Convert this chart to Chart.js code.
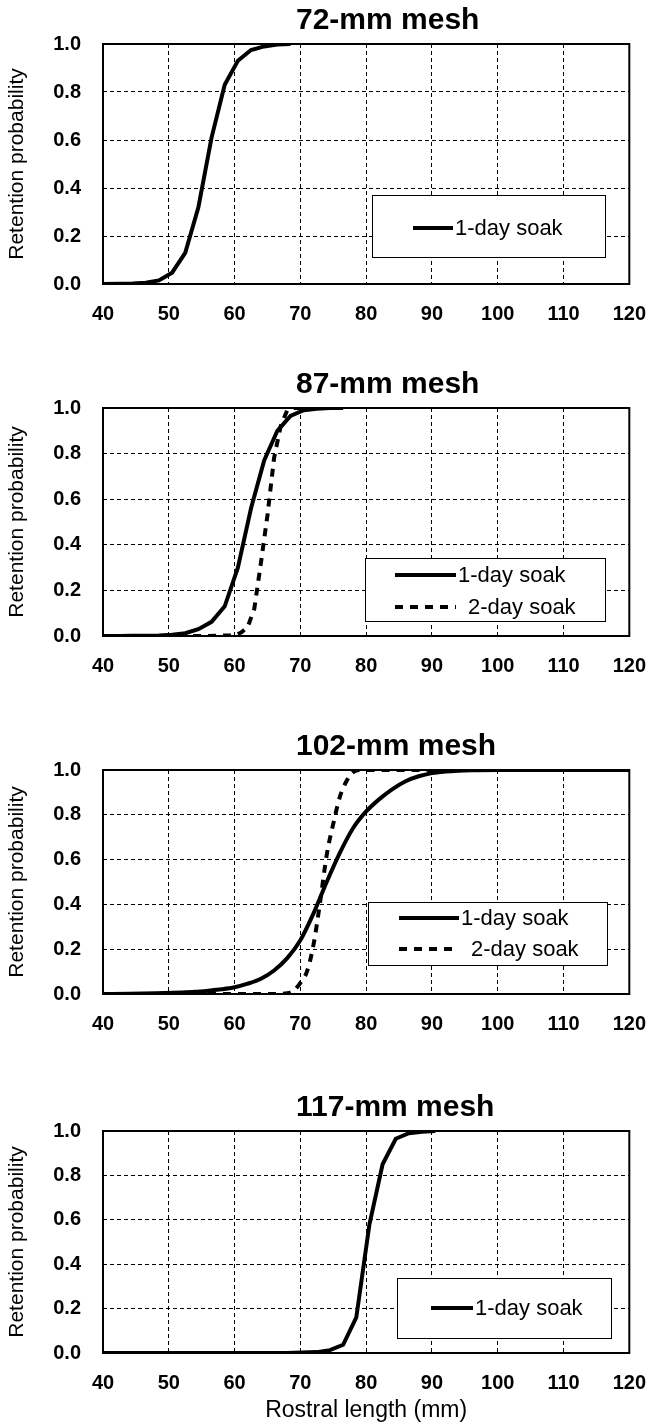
<!DOCTYPE html>
<html lang="en">
<head>
<meta charset="UTF-8">
<title>Retention probability by mesh size</title>
<script src="https://cdn.jsdelivr.net/npm/chart.js"></script>
<style>
  body { margin: 0; background: #fff; width: 664px; height: 1424px; position: relative; overflow: hidden; }
  canvas { position: absolute; left: 0; }
</style>
</head>
<body>
<canvas id="c72" width="664" height="330" style="top:0px"></canvas>
<canvas id="c87" width="664" height="318" style="top:364px"></canvas>
<canvas id="c102" width="664" height="314" style="top:726px"></canvas>
<canvas id="c117" width="664" height="337" style="top:1087px"></canvas>
<script>
// rostral length (mm) and retention probability
const len72 = [40, 42.5, 44.5, 46.5, 48.5, 50.5, 52.5, 54.5, 56.5, 58.5, 60.5, 62.5, 64.5, 66.5, 68.5];
const p72day1 = [0, 0.001, 0.002, 0.005, 0.015, 0.047, 0.13, 0.32, 0.61, 0.83, 0.93, 0.975, 0.99, 0.998, 1];

const len87day1 = [40, 42.5, 44.5, 46.5, 48.5, 50.5, 52.5, 54.5, 56.5, 58.5, 60.5, 62.5, 64.5, 66.5, 68.5, 70.5, 72.5, 74.5, 76.5];
const p87day1 = [0, 0, 0.001, 0.001, 0.002, 0.005, 0.012, 0.03, 0.062, 0.13, 0.3, 0.56, 0.77, 0.9, 0.965, 0.99, 0.997, 1, 1];
const len87day2 = [40, 44, 48, 52, 56, 60, 61, 62, 63, 64, 65, 66, 67, 68, 69, 70];
const p87day2 = [0, 0, 0, 0, 0, 0.003, 0.015, 0.04, 0.12, 0.32, 0.53, 0.78, 0.92, 0.99, 1, 1];

const len102day1 = [40, 44, 48, 52, 54, 56, 58, 60, 62, 64, 66, 68, 70, 72, 74, 76, 78, 80,
                    82, 84, 86, 88, 90, 92, 94, 96, 100, 110, 120];
const p102day1 = [0, 0.001, 0.003, 0.007, 0.01, 0.015, 0.021, 0.03, 0.046, 0.068, 0.105, 0.16, 0.24, 0.36, 0.5, 0.63, 0.74, 0.815,
                  0.87, 0.915, 0.95, 0.972, 0.986, 0.993, 0.997, 0.999, 1, 1, 1];
const len102day2 = [40, 50, 60, 66, 68, 69, 70, 71, 72, 73, 74, 75, 76, 77, 78, 79, 80, 90, 100, 110, 120];
const p102day2 = [0, 0, 0, 0, 0.003, 0.015, 0.05, 0.1, 0.22, 0.41, 0.62, 0.76, 0.88, 0.95, 0.99, 1, 1, 1, 1, 1, 1];

const len117 = [40, 44, 48, 52, 56, 60, 64, 68, 72.5, 74.5, 76.5, 78.5, 80.5, 82.5, 84.5, 86.5, 88.5, 90.5];
const p117day1 = [0, 0, 0, 0, 0, 0, 0, 0, 0.004, 0.013, 0.037, 0.16, 0.58, 0.85, 0.965, 0.99, 0.997, 1];

const xTicks = [40, 50, 60, 70, 80, 90, 100, 110, 120];
const yTicks = [0, 0.2, 0.4, 0.6, 0.8, 1.0];
const seriesNames = ['1-day soak', '2-day soak'];

const FONT = "'Liberation Sans', Arial, sans-serif";

function pts(xs, ys) {
    return xs.map((x, i) => ({ x: x, y: ys[i] }));
}

function solid(xs, ys, smooth) {
    return { label: seriesNames[0], data: pts(xs, ys), borderColor: '#000', borderWidth: 4,
             pointRadius: 0, fill: false, tension: 0, cubicInterpolationMode: smooth ? 'monotone' : 'default' };
}
function dashed(xs, ys, smooth) {
    return { label: seriesNames[1], data: pts(xs, ys), borderColor: '#000', borderWidth: 4, borderDash: [8, 7],
             pointRadius: 0, fill: false, tension: 0, cubicInterpolationMode: smooth ? 'monotone' : 'default' };
}

// title, frame and boxed legend drawn on the canvas
const panelDecor = {
    id: 'panelDecor',
    beforeDatasetsDraw(chart, args, opts) {
        const a = chart.chartArea, ctx = chart.ctx;
        ctx.save();
        ctx.strokeStyle = '#000';
        ctx.lineWidth = 2;
        ctx.strokeRect(a.left, a.top, a.right - a.left, a.bottom - a.top);
        ctx.restore();
    },
    afterDatasetsDraw(chart, args, opts) {
        const a = chart.chartArea, ctx = chart.ctx;
        ctx.save();
        // title
        ctx.fillStyle = '#000';
        ctx.font = "bold 30px " + FONT;
        ctx.textBaseline = 'middle';
        ctx.textAlign = 'left';
        ctx.fillText(opts.title, a.left + 193, a.top - 23);
        // legend box
        const b = opts.box;
        const bx = a.left + b.left, by = a.top + b.top;
        ctx.fillStyle = '#fff';
        ctx.fillRect(bx, by, b.width, b.height);
        ctx.strokeStyle = '#000';
        ctx.lineWidth = 1;
        ctx.strokeRect(bx + 0.5, by + 0.5, b.width, b.height);
        ctx.font = "22px " + FONT;
        chart.data.datasets.forEach((ds, i) => {
            const ry = by + b.rows[i];
            ctx.beginPath();
            ctx.setLineDash(ds.borderDash || []);
            ctx.lineWidth = ds.borderWidth;
            ctx.moveTo(bx + b.from, ry);
            ctx.lineTo(bx + b.to, ry);
            ctx.stroke();
            ctx.setLineDash([]);
            ctx.fillStyle = '#000';
            ctx.fillText(ds.label, bx + b.to + 2 + (ds.borderDash ? 10 : 0), ry + 1);
        });
        ctx.restore();
    }
};

function makePanel(id, title, xAxisH, datasets, box, showXTitle) {
    const ctx = document.getElementById(id).getContext('2d');
    return new Chart(ctx, {
        type: 'line',
        data: { datasets: datasets },
        options: {
            responsive: false,
            animation: false,
            layout: { padding: { top: 44, right: 17, left: 0, bottom: 0 } },
            plugins: {
                legend: { display: false },
                tooltip: { enabled: false },
                panelDecor: { title: title, box: box }
            },
            scales: {
                x: {
                    type: 'linear', min: 40, max: 120,
                    afterBuildTicks: s => { s.ticks = xTicks.map(v => ({ value: v })); },
                    afterFit: s => { s.height = xAxisH; },
                    grid: { color: '#000', lineWidth: 1, drawTicks: false },
                    border: { display: false, dash: [4, 3] },
                    ticks: { color: '#000', padding: 18, maxRotation: 0,
                             font: { family: FONT, size: 20, weight: 'bold' } },
                    title: { display: showXTitle, text: 'Rostral length (mm)', color: '#000',
                             padding: 0, font: { family: FONT, size: 23 } }
                },
                y: {
                    min: 0, max: 1,
                    afterBuildTicks: s => { s.ticks = yTicks.map(v => ({ value: v })); },
                    afterFit: s => { s.width = 103; },
                    grid: { color: '#000', lineWidth: 1, drawTicks: false },
                    border: { display: false, dash: [4, 3] },
                    ticks: { color: '#000', padding: 22, callback: v => v.toFixed(1),
                             font: { family: FONT, size: 20, weight: 'bold' } },
                    title: { display: true, text: 'Retention probability', color: '#000',
                             padding: { top: 5, bottom: 0 }, font: { family: FONT, size: 21 } }
                }
            }
        },
        plugins: [panelDecor]
    });
}

makePanel('c72', '72-mm mesh', 46,
    [solid(len72, p72day1)],
    { left: 269, top: 151, width: 233, height: 62, from: 41, to: 81, rows: [33] }, false);

makePanel('c87', '87-mm mesh', 46,
    [solid(len87day1, p87day1), dashed(len87day2, p87day2)],
    { left: 262, top: 150, width: 240, height: 63, from: 30, to: 91, rows: [17, 49] }, false);

makePanel('c102', '102-mm mesh', 46,
    [solid(len102day1, p102day1, true), dashed(len102day2, p102day2, true)],
    { left: 265, top: 132, width: 239, height: 63, from: 31, to: 91, rows: [16, 47] }, false);

makePanel('c117', '117-mm mesh', 71,
    [solid(len117, p117day1)],
    { left: 294, top: 147, width: 214, height: 60, from: 34, to: 76, rows: [30] }, true);
</script>
</body>
</html>
